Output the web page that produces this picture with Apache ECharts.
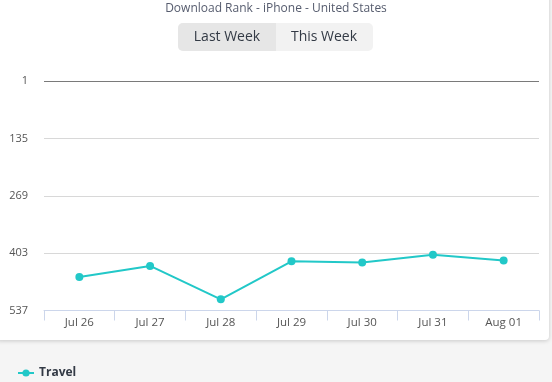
<!DOCTYPE html>
<html>
<head>
<meta charset="utf-8">
<script src="https://cdn.jsdelivr.net/npm/echarts@6/dist/echarts.min.js"></script>
<style>
html,body{margin:0;padding:0;background:#f5f5f5;}
#chart{width:552px;height:382px;}
</style>
</head>
<body>
<div id="chart"></div>
<script>
var categories = ['Jul 26', 'Jul 27', 'Jul 28', 'Jul 29', 'Jul 30', 'Jul 31', 'Aug 01'];
var travelRank = [459, 433, 511, 422, 425, 407, 420];
var seriesName = 'Travel';
var rankMin = 1, rankMax = 537, rankStep = 134;
var titleText = 'Download Rank - iPhone - United States';
var buttonLabels = ['Last Week', 'This Week'];

var chart = echarts.init(document.getElementById('chart'), null, {renderer: 'canvas'});
var font = '"Open Sans", Lato, sans-serif';
chart.setOption({
  backgroundColor: '#f5f5f5',
  animation: false,
  textStyle: {fontFamily: font},
  graphic: [
    {type: 'rect', z: -10, shape: {x: -4, y: -10, width: 553, height: 350, r: 4},
     style: {fill: '#ffffff', shadowBlur: 4, shadowColor: 'rgba(0,0,0,0.18)', shadowOffsetY: 1}},
    {type: 'text', x: 276, y: 9,
     style: {text: titleText, fill: '#565c6e', font: '12px ' + font, align: 'center', verticalAlign: 'middle'}},
    {type: 'rect', shape: {x: 178, y: 23, width: 195, height: 28, r: 5}, style: {fill: '#f2f2f2'}},
    {type: 'rect', shape: {x: 178, y: 23, width: 98, height: 28, r: [5, 0, 0, 5]}, style: {fill: '#e6e6e6'}},
    {type: 'text', x: 227, y: 37, style: {text: buttonLabels[0], fill: '#333a45', font: '14px ' + font, align: 'center', verticalAlign: 'middle'}},
    {type: 'text', x: 324, y: 37, style: {text: buttonLabels[1], fill: '#333a45', font: '14px ' + font, align: 'center', verticalAlign: 'middle'}}
  ],
  grid: {left: 44, right: 13, top: 81, bottom: 71.5, containLabel: false},
  legend: {
    left: 12, top: 362, itemWidth: 16, itemHeight: 9, itemGap: 10,
    data: [seriesName],
    textStyle: {fontWeight: 'bold', fontSize: 12, color: '#333a45', fontFamily: font}
  },
  xAxis: {
    type: 'category', data: categories, boundaryGap: true,
    axisLine: {onZero: false, lineStyle: {color: '#ccd6eb', width: 1}},
    axisTick: {show: true, length: 10, lineStyle: {color: '#ccd6eb'}},
    axisLabel: {color: '#555', fontSize: 11.5, margin: 6, fontFamily: font},
    splitLine: {show: false}
  },
  yAxis: {
    type: 'value', inverse: true, min: rankMin, max: rankMax, interval: rankStep,
    axisLine: {show: false}, axisTick: {show: false},
    axisLabel: {color: '#555', fontSize: 11, margin: 16, fontFamily: font},
    splitLine: {lineStyle: {color: ['#7a7a7a', '#d8d8d8', '#d8d8d8', '#d8d8d8', '#d8d8d8'], width: 1}}
  },
  series: [{
    name: seriesName, type: 'line', data: travelRank,
    color: '#22c8c8',
    lineStyle: {width: 2},
    symbol: 'circle', symbolSize: 8, showSymbol: true
  }]
});
</script>
</body>
</html>
